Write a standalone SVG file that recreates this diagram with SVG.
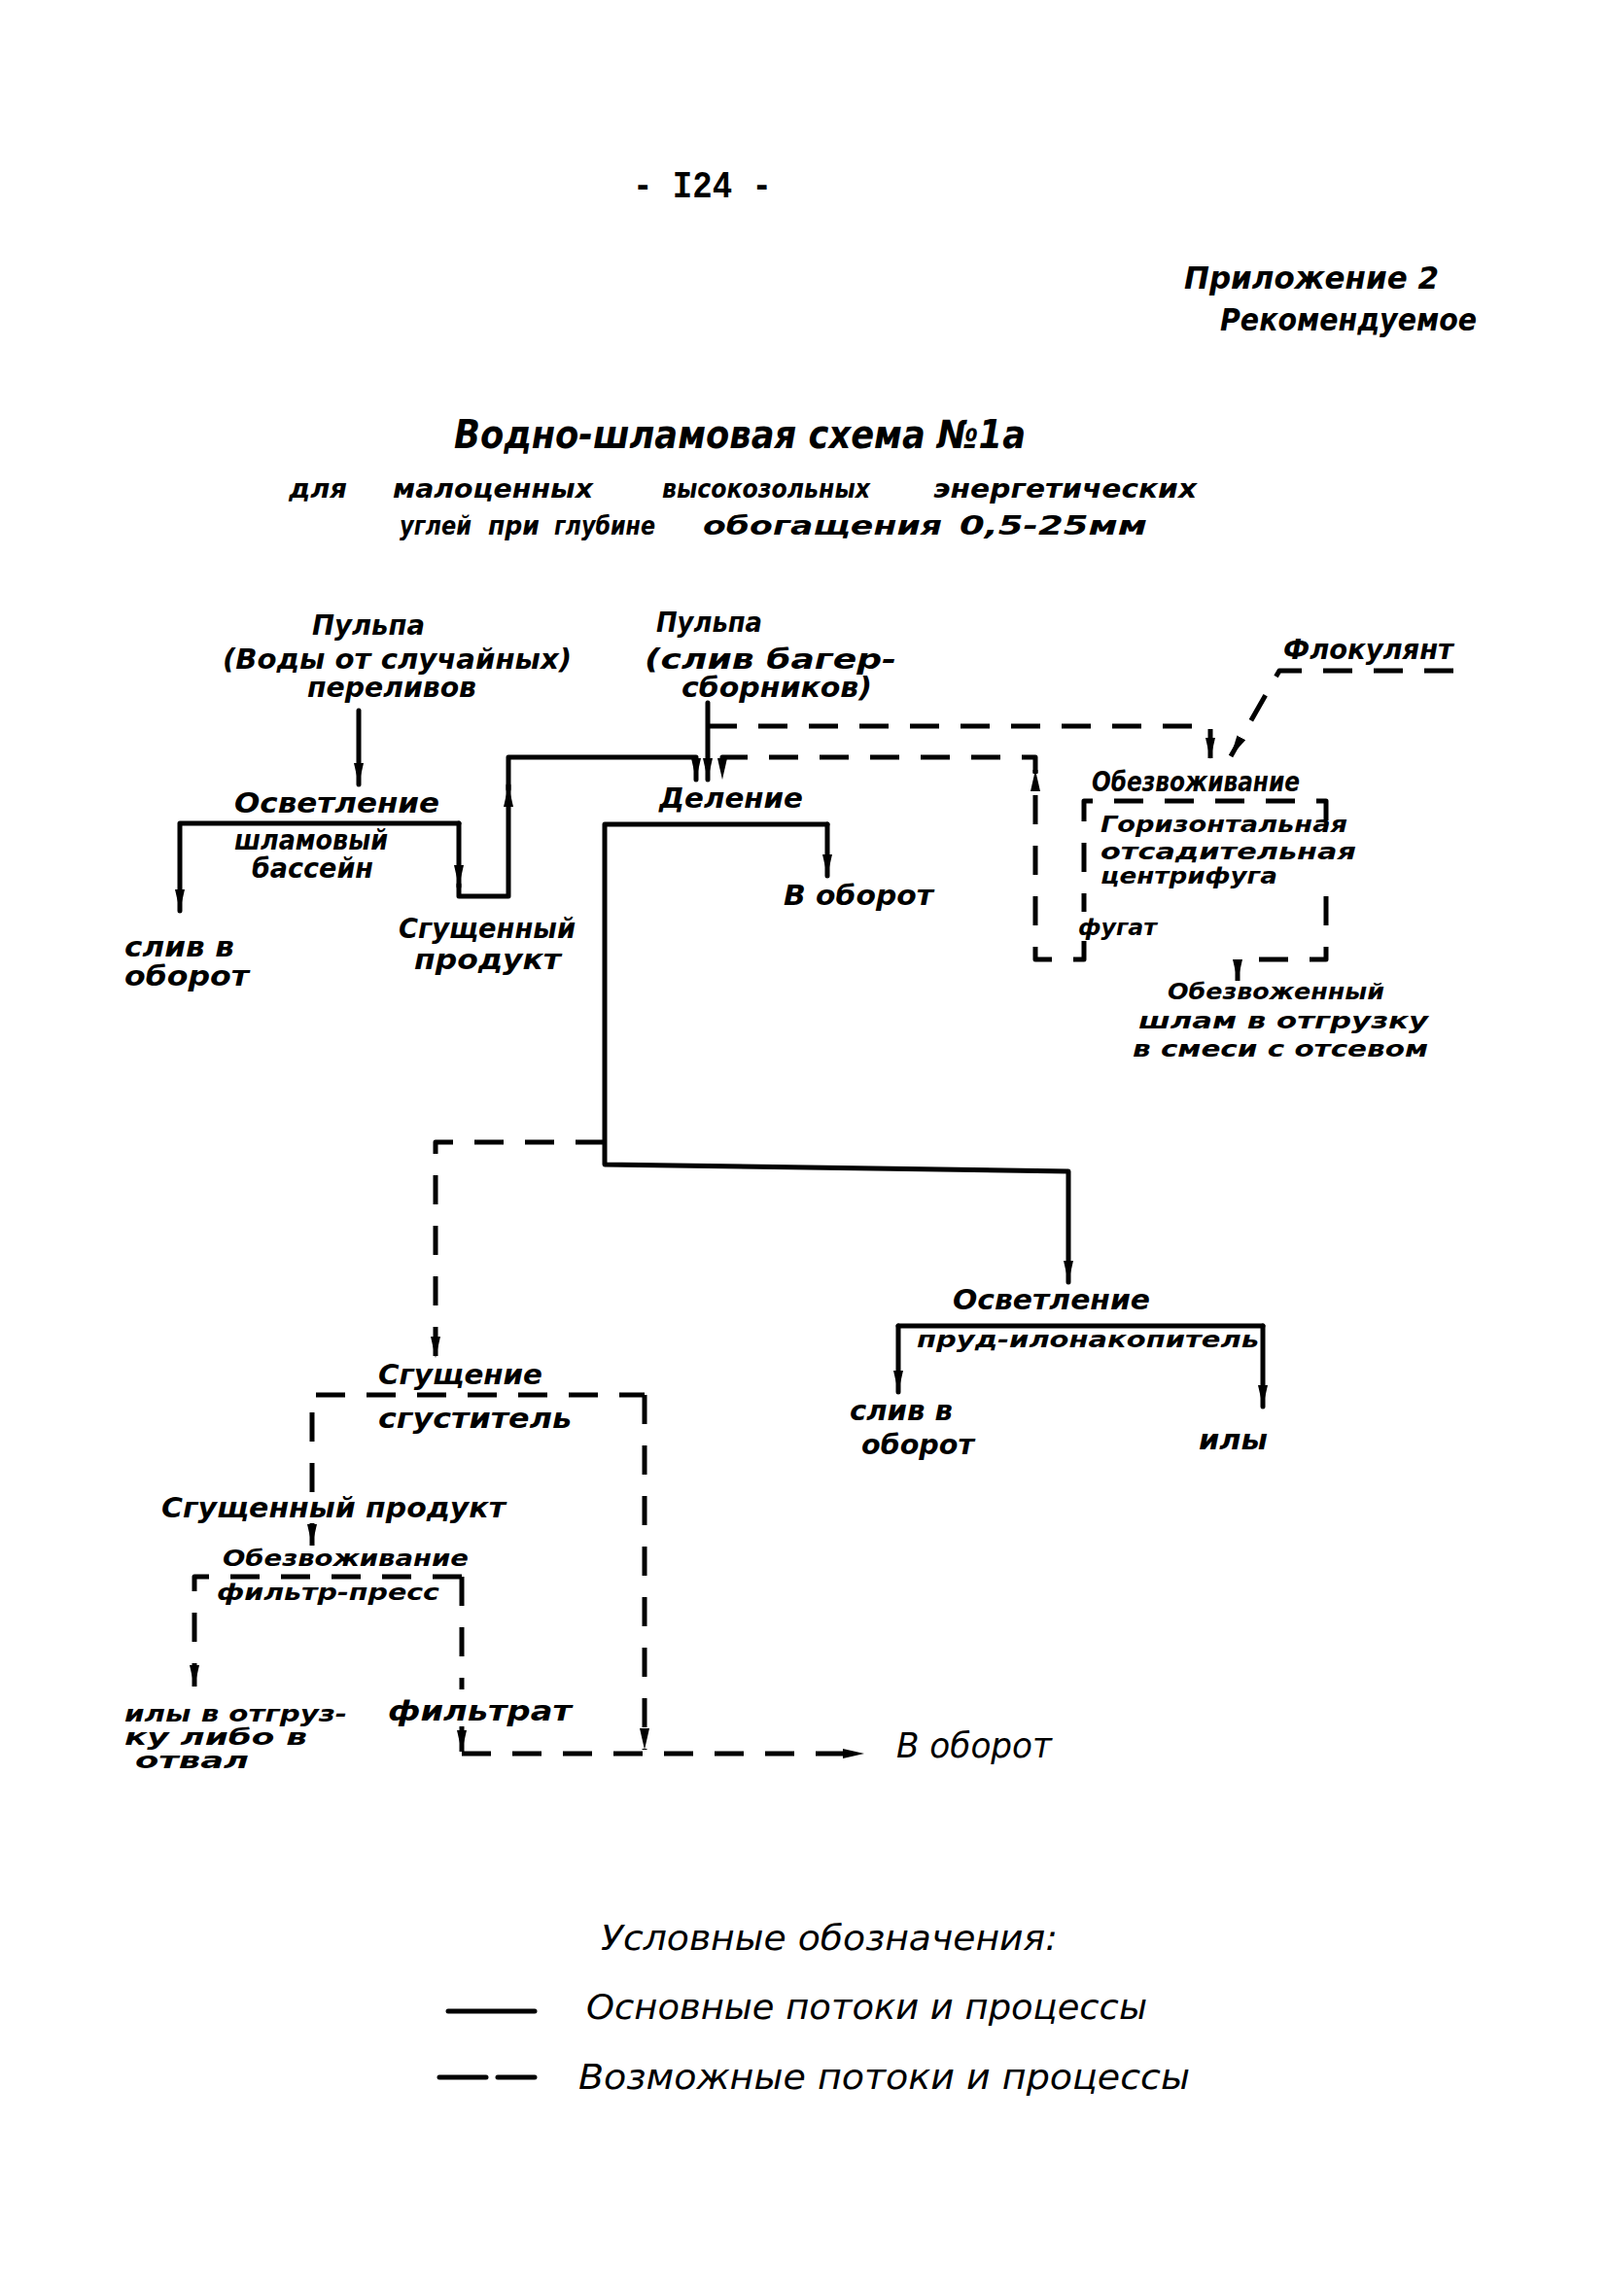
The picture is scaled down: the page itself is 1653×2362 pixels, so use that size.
<svg xmlns="http://www.w3.org/2000/svg" width="1653" height="2362" viewBox="0 0 1653 2362">
<style>
.bg{fill:#fff}
.s{stroke:#000;stroke-width:5;fill:none;stroke-linecap:round;stroke-linejoin:round}
.d{stroke-dasharray:30 22;stroke-linecap:butt}
.t{font-family:"DejaVu Sans","Liberation Sans",sans-serif;font-style:oblique;font-weight:bold;font-size:28px;fill:#000}
.sm{font-size:23px}
.h{font-size:40px}
.m{font-size:32px}
.sub{font-size:27px}
.l{font-family:"DejaVu Sans","Liberation Sans",sans-serif;font-style:oblique;font-weight:normal;font-size:36px;fill:#000}
.pn{font-family:"Liberation Mono","DejaVu Sans Mono",monospace;font-weight:bold;font-size:38px;fill:#000}
</style>
<defs>
<marker id="ah" markerUnits="userSpaceOnUse" markerWidth="24" markerHeight="12" refX="22" refY="6" orient="auto">
<path d="M0,1 L22,6 L0,11 z" fill="#000"/>
</marker>
</defs>
<rect class="bg" x="0" y="0" width="1653" height="2362"/>

<g id="header">
<text class="pn" x="651" y="203" textLength="143" lengthAdjust="spacingAndGlyphs">- I24 -</text>
<text class="t m" x="1218" y="297" textLength="262" lengthAdjust="spacingAndGlyphs">Приложение 2</text>
<text class="t m" x="1255" y="340" textLength="264" lengthAdjust="spacingAndGlyphs">Рекомендуемое</text>
<text class="t h" x="467" y="461" textLength="588" lengthAdjust="spacingAndGlyphs">Водно-шламовая схема №1а</text>
<text class="t sub" y="512"><tspan x="297" textLength="60" lengthAdjust="spacingAndGlyphs">для</tspan><tspan x="404" textLength="206" lengthAdjust="spacingAndGlyphs">малоценных</tspan><tspan x="681" textLength="214" lengthAdjust="spacingAndGlyphs">высокозольных</tspan><tspan x="960" textLength="271" lengthAdjust="spacingAndGlyphs">энергетических</tspan></text>
<text class="t sub" y="550"><tspan x="411" textLength="74" lengthAdjust="spacingAndGlyphs">углей</tspan><tspan x="502" textLength="53" lengthAdjust="spacingAndGlyphs">при</tspan><tspan x="570" textLength="104" lengthAdjust="spacingAndGlyphs">глубине</tspan><tspan x="723" textLength="246" lengthAdjust="spacingAndGlyphs">обогащения</tspan><tspan x="987" textLength="193" lengthAdjust="spacingAndGlyphs">0,5-25мм</tspan></text>
</g>

<g id="connectors">
<path class="s" d="M369,731 L369,807" marker-end="url(#ah)"/>
<path class="s" d="M472,847 L185,847 L185,937" marker-end="url(#ah)"/>
<path class="s" d="M472,847 L472,912" marker-end="url(#ah)"/>
<path class="s" d="M472,910 L472,922 L523,922 L523,808" marker-end="url(#ah)"/>
<path class="s" d="M523,812 L523,779 L716,779 L716,802" marker-end="url(#ah)"/>
<path class="s" d="M728,723 L728,802" marker-end="url(#ah)"/>
<path class="s" d="M851,848 L851,901" marker-end="url(#ah)"/>
<path class="s" d="M851,848 L622,848 L622,1198 L1099,1205 L1099,1319" marker-end="url(#ah)"/>
<path class="s" d="M924,1364 L1299,1364"/>
<path class="s" d="M924,1364 L924,1432" marker-end="url(#ah)"/>
<path class="s" d="M1299,1364 L1299,1447" marker-end="url(#ah)"/>
<path class="s d" d="M728,747 L1245,747 L1245,781" marker-end="url(#ah)"/>
<path class="s d" d="M1495,690 L1316,690 L1266,778" marker-end="url(#ah)"/>
<path class="s d" d="M1364,844 L1364,824 L1115,824 L1115,938"/>
<path class="s d" d="M1115,968 L1115,987 L1065,987 L1065,792" marker-end="url(#ah)"/>
<path class="s d" d="M1065,795 L1065,779 L743,779 L743,802" marker-end="url(#ah)"/>
<path class="s d" d="M1364,922 L1364,987 L1273,987 L1273,1009" marker-end="url(#ah)"/>
<path class="s d" d="M622,1175 L448,1175 L448,1397" marker-end="url(#ah)"/>
<path class="s d" d="M321,1535 L321,1435 L663,1435"/>
<path class="s d" d="M663,1435 L663,1800" marker-end="url(#ah)"/>
<path class="s d" d="M321,1567 L321,1590" marker-end="url(#ah)"/>
<path class="s d" d="M475,1622 L200,1622 L200,1735" marker-end="url(#ah)"/>
<path class="s d" d="M475,1622 L475,1738"/>
<path class="s d" d="M475,1776 L475,1802" marker-end="url(#ah)"/>
<path class="s d" d="M475,1804 L889,1804" marker-end="url(#ah)"/>
</g>

<g id="n-pulp-left">
<text class="t" x="321" y="653" textLength="116" lengthAdjust="spacingAndGlyphs">Пульпа</text>
<text class="t" x="229" y="688" textLength="359" lengthAdjust="spacingAndGlyphs">(Воды от случайных)</text>
<text class="t" x="316" y="717" textLength="174" lengthAdjust="spacingAndGlyphs">переливов</text>
</g>
<g id="n-clarif-left">
<text class="t" x="241" y="836" textLength="211" lengthAdjust="spacingAndGlyphs">Осветление</text>
<text class="t" x="241" y="874" textLength="158" lengthAdjust="spacingAndGlyphs">шламовый</text>
<text class="t" x="259" y="903" textLength="125" lengthAdjust="spacingAndGlyphs">бассейн</text>
</g>
<g id="n-drain-left">
<text class="t" x="128" y="984" textLength="113" lengthAdjust="spacingAndGlyphs">слив в</text>
<text class="t" x="128" y="1014" textLength="128" lengthAdjust="spacingAndGlyphs">оборот</text>
</g>
<g id="n-thick-prod-1">
<text class="t" x="410" y="965" textLength="182" lengthAdjust="spacingAndGlyphs">Сгущенный</text>
<text class="t" x="426" y="997" textLength="151" lengthAdjust="spacingAndGlyphs">продукт</text>
</g>
<g id="n-pulp-right">
<text class="t" x="675" y="650" textLength="109" lengthAdjust="spacingAndGlyphs">Пульпа</text>
<text class="t" x="663" y="688" textLength="259" lengthAdjust="spacingAndGlyphs">(слив багер-</text>
<text class="t" x="701" y="717" textLength="196" lengthAdjust="spacingAndGlyphs">сборников)</text>
</g>
<g id="n-flocculant">
<text class="t" x="1320" y="678" textLength="175" lengthAdjust="spacingAndGlyphs">Флокулянт</text>
</g>
<g id="n-division">
<text class="t" x="678" y="831" textLength="148" lengthAdjust="spacingAndGlyphs">Деление</text>
</g>
<g id="n-circ-1">
<text class="t" x="806" y="931" textLength="154" lengthAdjust="spacingAndGlyphs">В оборот</text>
</g>
<g id="n-dewater-centrifuge">
<text class="t" x="1123" y="814" textLength="214" lengthAdjust="spacingAndGlyphs">Обезвоживание</text>
<text class="t sm" x="1132" y="856" textLength="254" lengthAdjust="spacingAndGlyphs">Горизонтальная</text>
<text class="t sm" x="1132" y="884" textLength="263" lengthAdjust="spacingAndGlyphs">отсадительная</text>
<text class="t sm" x="1132" y="909" textLength="182" lengthAdjust="spacingAndGlyphs">центрифуга</text>
</g>
<g id="n-fugate">
<text class="t sm" x="1109" y="962" textLength="81" lengthAdjust="spacingAndGlyphs">фугат</text>
</g>
<g id="n-dewatered-sludge">
<text class="t sm" x="1201" y="1028" textLength="223" lengthAdjust="spacingAndGlyphs">Обезвоженный</text>
<text class="t sm" x="1171" y="1058" textLength="298" lengthAdjust="spacingAndGlyphs">шлам в отгрузку</text>
<text class="t sm" x="1165" y="1087" textLength="304" lengthAdjust="spacingAndGlyphs">в смеси с отсевом</text>
</g>
<g id="n-clarif-pond">
<text class="t" x="980" y="1347" textLength="203" lengthAdjust="spacingAndGlyphs">Осветление</text>
<text class="t sm" x="943" y="1386" textLength="352" lengthAdjust="spacingAndGlyphs">пруд-илонакопитель</text>
</g>
<g id="n-drain-2">
<text class="t" x="874" y="1461" textLength="106" lengthAdjust="spacingAndGlyphs">слив в</text>
<text class="t" x="886" y="1496" textLength="116" lengthAdjust="spacingAndGlyphs">оборот</text>
</g>
<g id="n-silt">
<text class="t" x="1233" y="1491" textLength="71" lengthAdjust="spacingAndGlyphs">илы</text>
</g>
<g id="n-thickening">
<text class="t" x="389" y="1424" textLength="169" lengthAdjust="spacingAndGlyphs">Сгущение</text>
<text class="t" x="389" y="1469" textLength="199" lengthAdjust="spacingAndGlyphs">сгуститель</text>
</g>
<g id="n-thick-prod-2">
<text class="t" x="166" y="1561" textLength="354" lengthAdjust="spacingAndGlyphs">Сгущенный продукт</text>
</g>
<g id="n-dewater-press">
<text class="t sm" x="229" y="1611" textLength="253" lengthAdjust="spacingAndGlyphs">Обезвоживание</text>
<text class="t sm" x="223" y="1646" textLength="229" lengthAdjust="spacingAndGlyphs">фильтр-пресс</text>
</g>
<g id="n-silt-dump">
<text class="t sm" x="128" y="1771" textLength="229" lengthAdjust="spacingAndGlyphs">илы в отгруз-</text>
<text class="t sm" x="128" y="1795" textLength="188" lengthAdjust="spacingAndGlyphs">ку либо в</text>
<text class="t sm" x="139" y="1819" textLength="117" lengthAdjust="spacingAndGlyphs">отвал</text>
</g>
<g id="n-filtrate">
<text class="t" x="399" y="1770" textLength="189" lengthAdjust="spacingAndGlyphs">фильтрат</text>
</g>
<g id="n-circ-3">
<text class="l" x="922" y="1808" textLength="160" lengthAdjust="spacingAndGlyphs">В оборот</text>
</g>

<g id="legend">
<text class="l" x="618" y="2006" textLength="470" lengthAdjust="spacingAndGlyphs">Условные обозначения:</text>
<path class="s" d="M461,2069 L550,2069"/>
<text class="l" x="603" y="2077" textLength="577" lengthAdjust="spacingAndGlyphs">Основные потоки и процессы</text>
<path class="s" d="M452,2137 L500,2137 M512,2137 L550,2137"/>
<text class="l" x="595" y="2149" textLength="629" lengthAdjust="spacingAndGlyphs">Возможные потоки и процессы</text>
</g>
</svg>
